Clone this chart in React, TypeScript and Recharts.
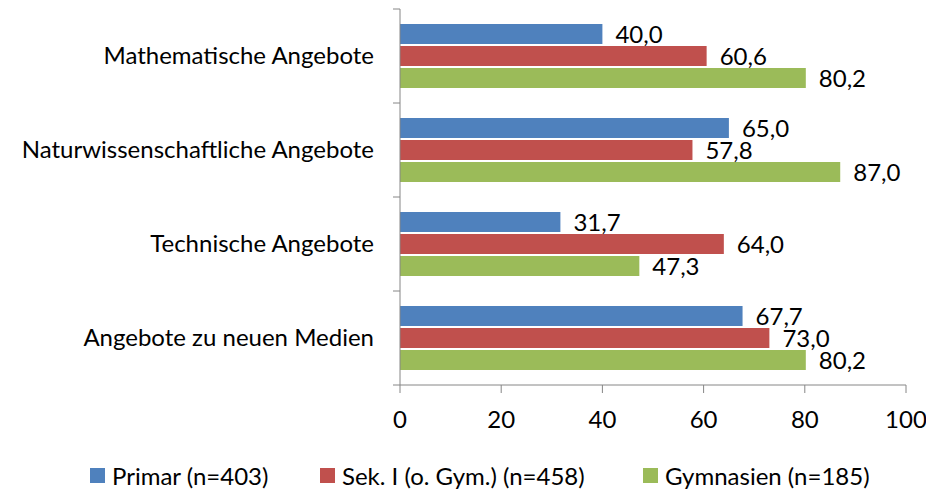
import React from 'react';
import { BarChart, Bar, XAxis, YAxis, Legend, LabelList } from 'recharts';

const categories = [
  'Mathematische Angebote',
  'Naturwissenschaftliche Angebote',
  'Technische Angebote',
  'Angebote zu neuen Medien',
];
const primar = [40.0, 65.0, 31.7, 67.7];
const sek = [60.6, 57.8, 64.0, 73.0];
const gym = [80.2, 87.0, 47.3, 80.2];
const xTicks = [0, 20, 40, 60, 80, 100];
const seriesNames = ['Primar (n=403)', 'Sek. I (o. Gym.) (n=458)', 'Gymnasien (n=185)'];
const seriesColors = ['#4F81BD', '#C0504D', '#9BBB59'];

const data = categories.map((name, i) => ({ name, primar: primar[i], sek: sek[i], gym: gym[i] }));

const W = 926;
const H = 490;
const MARGIN = { top: 9, right: 20, left: 0, bottom: 0 };
const XAXIS_H = 75;
const LEGEND_H = 30;
const PLOT_H = H - MARGIN.top - MARGIN.bottom - XAXIS_H - LEGEND_H;
const HALF_BAND = PLOT_H / categories.length / 2;
const FONT = 'Lato, "Open Sans", sans-serif';
const FS = 24;
const AXIS_COLOR = '#868686';
const LEGEND_ITEM_WIDTHS = [230, 323, 260];

const fmt = (v: any) => Number(v).toFixed(1).replace('.', ',');

const YTick = (props: any) => {
  const { x, y, payload, index } = props;
  return (
    <g>
      <text x={x - 26} y={y} dy={8} textAnchor="end" fontSize={FS} fontFamily={FONT} fill="#000">
        {payload.value}
      </text>
      <line x1={x - 7} x2={x} y1={y - HALF_BAND} y2={y - HALF_BAND} stroke={AXIS_COLOR} />
      {index === categories.length - 1 && (
        <line x1={x - 7} x2={x} y1={y + HALF_BAND} y2={y + HALF_BAND} stroke={AXIS_COLOR} />
      )}
    </g>
  );
};

const LegendContent = () => (
  <div
    style={{
      height: LEGEND_H,
      display: 'flex',
      alignItems: 'center',
      paddingLeft: 90,
      fontFamily: FONT,
      fontSize: FS,
      color: '#000',
      whiteSpace: 'nowrap',
    }}
  >
    {seriesNames.map((n, i) => (
      <div key={n} style={{ display: 'flex', alignItems: 'center', width: LEGEND_ITEM_WIDTHS[i], flex: 'none' }}>
        <span style={{ width: 15, height: 15, background: seriesColors[i], display: 'inline-block', marginRight: 7, flex: 'none' }} />
        <span>{n}</span>
      </div>
    ))}
  </div>
);

const labelStyle = { fontSize: FS, fontFamily: FONT, fill: '#000' };

export default function App() {
  return (
    <div style={{ position: 'absolute', left: 0, top: 0, width: W, height: H, background: '#fff' }}>
      <BarChart width={W} height={H} data={data} layout="vertical" margin={MARGIN} barSize={20} barGap={2}>
        <XAxis
          type="number"
          domain={[0, 100]}
          ticks={xTicks}
          interval={0}
          height={XAXIS_H}
          axisLine={{ stroke: AXIS_COLOR }}
          tickLine={{ stroke: AXIS_COLOR }}
          tickSize={8}
          tickMargin={18}
          tick={{ fontSize: FS, fontFamily: FONT, fill: '#000' }}
        />
        <YAxis
          type="category"
          dataKey="name"
          width={400}
          axisLine={{ stroke: AXIS_COLOR }}
          tickLine={false}
          tickSize={0}
          tickMargin={0}
          interval={0}
          tick={<YTick />}
        />
        <Legend verticalAlign="bottom" height={LEGEND_H} content={<LegendContent />} />
        <Bar dataKey="primar" name={seriesNames[0]} fill={seriesColors[0]} isAnimationActive={false}>
          <LabelList dataKey="primar" position="right" offset={13} formatter={fmt} style={labelStyle} />
        </Bar>
        <Bar dataKey="sek" name={seriesNames[1]} fill={seriesColors[1]} isAnimationActive={false}>
          <LabelList dataKey="sek" position="right" offset={13} formatter={fmt} style={labelStyle} />
        </Bar>
        <Bar dataKey="gym" name={seriesNames[2]} fill={seriesColors[2]} isAnimationActive={false}>
          <LabelList dataKey="gym" position="right" offset={13} formatter={fmt} style={labelStyle} />
        </Bar>
      </BarChart>
    </div>
  );
}
